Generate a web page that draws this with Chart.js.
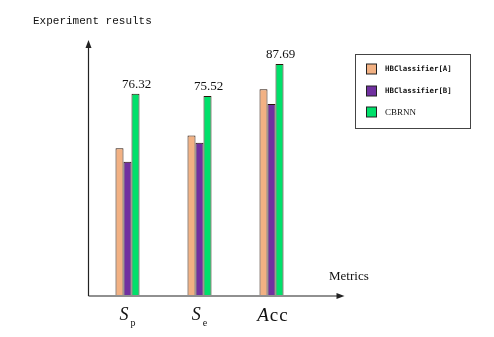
<!DOCTYPE html>
<html><head><meta charset="utf-8">
<script src="https://cdn.jsdelivr.net/npm/chart.js@4"></script>
<style>html,body{margin:0;padding:0;background:#fff;overflow:hidden}</style>
</head>
<body><canvas id="c" width="494" height="337"></canvas>
<script>
const categories = ["Sp", "Se", "Acc"];
const tickMain = ["S", "S", "Acc"];
const tickSub = ["p", "e", ""];
const seriesNames = ["HBClassifier[A]", "HBClassifier[B]", "CBRNN"];
const hbA = [55.7, 60.5, 78.1];
const hbB = [50.6, 57.8, 72.5];
const cbrnn = [76.32, 75.52, 87.69];
const yTitle = "Experiment results";
const xTitle = "Metrics";
const colors = ["#F2B183", "#7030A0", "#00E06A"];

const overlay = {
  id: 'overlay',
  afterDraw(chart) {
    const ctx = chart.ctx;
    const ca = chart.chartArea;
    const xs = chart.scales.x;
    ctx.save();
    // axes
    const ax = ca.left - 3, ay = ca.bottom + 1;
    ctx.strokeStyle = '#222';
    ctx.fillStyle = '#222';
    ctx.lineWidth = 1.2;
    ctx.beginPath();
    ctx.moveTo(ax, ay); ctx.lineTo(ax, ca.top + 4);
    ctx.moveTo(ax, ay); ctx.lineTo(ca.right + 32, ay);
    ctx.stroke();
    // arrowheads
    ctx.beginPath();
    ctx.moveTo(ax, ca.top - 2); ctx.lineTo(ax - 3, ca.top + 6); ctx.lineTo(ax + 3, ca.top + 6); ctx.closePath(); ctx.fill();
    ctx.beginPath();
    ctx.moveTo(ca.right + 37, ay); ctx.lineTo(ca.right + 29, ay - 3); ctx.lineTo(ca.right + 29, ay + 3); ctx.closePath(); ctx.fill();
    // titles
    ctx.fillStyle = '#111';
    ctx.font = '11px "Liberation Mono"';
    ctx.textBaseline = 'middle';
    ctx.textAlign = 'left';
    ctx.fillText(yTitle, 33, 21);
    ctx.font = '13px "Liberation Serif"';
    ctx.fillText(xTitle, 329, 277);
    // value labels on last dataset
    const meta = chart.getDatasetMeta(2);
    ctx.font = '13px "Liberation Serif"';
    ctx.textAlign = 'center';
    ctx.textBaseline = 'bottom';
    meta.data.forEach((bar, i) => {
      ctx.fillText(cbrnn[i].toFixed(2), bar.x + 1, bar.y - 3);
    });
    // x tick labels
    ctx.textBaseline = 'alphabetic';
    categories.forEach((c, i) => {
      const cx = xs.getPixelForValue(i);
      if (tickSub[i]) {
        ctx.font = 'italic 18px "Liberation Serif"';
        const w1 = ctx.measureText(tickMain[i]).width;
        ctx.font = '10px "Liberation Serif"';
        const w2 = ctx.measureText(tickSub[i]).width;
        const start = cx - (w1 + 2 + w2) / 2;
        ctx.textAlign = 'left';
        ctx.font = 'italic 18px "Liberation Serif"';
        ctx.fillText(tickMain[i], start, 320);
        ctx.font = '10px "Liberation Serif"';
        ctx.fillText(tickSub[i], start + w1 + 2, 326);
      } else {
        ctx.font = 'italic 19px "Liberation Serif"';
        const a = tickMain[i][0];
        const rest = tickMain[i].slice(1);
        const wa = ctx.measureText(a).width;
        ctx.font = '19px "Liberation Serif"';
        const wr = ctx.measureText(rest).width + 2;
        const start = cx + 1 - (wa + wr) / 2;
        ctx.textAlign = 'left';
        ctx.font = 'italic 19px "Liberation Serif"';
        ctx.fillText(a, start, 321);
        ctx.font = '19px "Liberation Serif"';
        ctx.fillText(rest[0], start + wa + 1, 321);
        ctx.fillText(rest[1], start + wa + 1 + ctx.measureText(rest[0]).width + 1, 321);
      }
    });
    // legend
    ctx.strokeStyle = '#444';
    ctx.lineWidth = 1;
    ctx.strokeRect(355.5, 54.5, 115, 74);
    const ys = [69, 91, 112];
    chart.data.datasets.forEach((ds, i) => {
      ctx.fillStyle = ds.backgroundColor;
      ctx.fillRect(366.5, ys[i] - 5, 10, 10);
      ctx.strokeStyle = '#222';
      ctx.strokeRect(366.5, ys[i] - 5, 10, 10);
      ctx.fillStyle = '#111';
      ctx.textAlign = 'left';
      ctx.textBaseline = 'middle';
      ctx.font = i < 2 ? 'bold 7.4px "DejaVu Sans Mono"' : '9px "Liberation Serif"';
      ctx.fillText(ds.label, 385, ys[i] + 0.5);
    });
    ctx.restore();
  }
};

new Chart(document.getElementById('c'), {
  type: 'bar',
  data: {
    labels: categories,
    datasets: [
      { label: seriesNames[0], data: hbA, backgroundColor: colors[0] },
      { label: seriesNames[1], data: hbB, backgroundColor: colors[1] },
      { label: seriesNames[2], data: cbrnn, backgroundColor: colors[2] }
    ]
  },
  options: {
    responsive: false,
    animation: false,
    layout: { padding: { left: 91.5, right: 186.5, top: 42, bottom: 42 } },
    datasets: { bar: { barPercentage: 1, categoryPercentage: 1 / 3, borderColor: '#2a1408', borderWidth: 1 } },
    plugins: { legend: { display: false }, tooltip: { enabled: false } },
    scales: {
      x: { display: false },
      y: { display: false, min: 0, max: 96 }
    }
  },
  plugins: [overlay]
});
</script>
</body></html>
